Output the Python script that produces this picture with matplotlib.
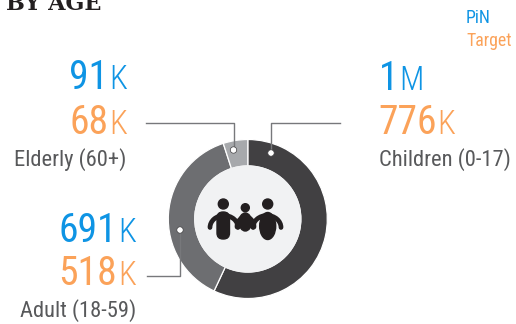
import matplotlib
matplotlib.use('Agg')
import matplotlib.pyplot as plt
from matplotlib.patches import Circle, Ellipse, Arc, FancyBboxPatch

# Personas por grupo de edad (miles)
grupos = ['Children (0-17)', 'Adult (18-59)', 'Elderly (60+)']
pin_num = ['1', '691', '91']
pin_unit = ['M', 'K', 'K']
target_num = ['776', '518', '68']
target_unit = ['K', 'K', 'K']
target = [776, 518, 68]
colores = ['#414042', '#6D6E71', '#A7A9AC']

AZUL = '#0E94E4'
NARANJA = '#FBA259'
GRIS = '#58595B'

plt.rcParams['font.family'] = ['Roboto Condensed', 'DejaVu Sans']

fig = plt.figure(figsize=(5.16, 3.24), dpi=100)
ax = fig.add_axes([0, 0, 1, 1])


def Y(py):
    return 324 - py


# Dona
cx, cy, r = 247.8, 219, 79.5
ax.pie(target, colors=colores, startangle=90, counterclock=False, center=(cx, Y(cy)),
       radius=r, frame=False, wedgeprops=dict(width=r - 53, edgecolor='white', linewidth=0.9))
ax.set_xlim(0, 516)
ax.set_ylim(0, 324)
ax.set_aspect('equal')
ax.axis('off')
ax.add_patch(Circle((cx, Y(cy)), 53, color='#F1F2F3', zorder=3))

# Lineas guia
guia = '#77787B'
ax.plot([146, 233.5, 233.5], [Y(122.7), Y(122.7), Y(150)], color=guia, lw=1, zorder=4)
ax.plot([340, 271, 271], [Y(122.7), Y(122.7), Y(153)], color=guia, lw=1, zorder=4)
ax.plot([147, 180, 180], [Y(275.7), Y(275.7), Y(230)], color=guia, lw=1, zorder=4)
for x, y in [(233.5, 150), (271, 153), (180, 230)]:
    ax.add_patch(Circle((x, Y(y)), 3.2, fc='white', ec='#414042', lw=0.5, zorder=5))

# Icono de la familia
neg = '#231F20'
for x, y, rad in [(223.3, 204, 5), (245.3, 207.7, 4), (267.7, 204, 5)]:
    ax.add_patch(Circle((x, Y(y)), rad, color=neg, zorder=6))
ax.add_patch(FancyBboxPatch((217, Y(239)), 12.5, 27, boxstyle='round,pad=0,rounding_size=6',
                            color=neg, zorder=6))
ax.add_patch(Ellipse((245.3, Y(222)), 12.5, 18, color=neg, zorder=6))
ax.add_patch(Ellipse((267.7, Y(226)), 16, 27, color=neg, zorder=6))
for x, y, w, h in [(224, 227.5, 28, 24), (267, 227.5, 28, 24), (245.5, 227, 17, 20)]:
    ax.add_patch(Arc((x, Y(y)), w, h, theta1=0, theta2=180, color=neg, lw=3.4,
                     capstyle='round', zorder=6))

# Titulo y leyenda
ax.text(6, Y(10), 'BY AGE', family=['Roboto Slab', 'DejaVu Serif'], weight='bold', fontsize=16,
        color='#231F20', ha='left', va='baseline')
ax.text(466, Y(23), 'PiN', fontsize=12.8, color=AZUL, ha='left', va='baseline')
ax.text(466, Y(46), 'Target', fontsize=12.8, color=NARANJA, ha='left', va='baseline')


def numero(x, y, num, unit, color, ancla):
    # numero grande seguido de la unidad en letra fina
    t = ax.text(x, Y(y), num, fontsize=28.5, color=color, ha='left', va='baseline')
    rend = fig.canvas.get_renderer()
    w = t.get_window_extent(rend).width
    u = ax.text(x + w + 1, Y(y), unit, fontsize=23.5, weight='light', color=color,
                ha='left', va='baseline')
    if ancla == 'right':
        d = -(w + 1 + u.get_window_extent(rend).width)
        t.set_x(x + d)
        u.set_x(x + w + 1 + d)


numero(127, 89, pin_num[2], pin_unit[2], AZUL, 'right')
numero(127, 134, target_num[2], target_unit[2], NARANJA, 'right')
ax.text(126, Y(166), grupos[2], fontsize=16.2, color=GRIS, ha='right', va='baseline')

numero(379, 90, pin_num[0], pin_unit[0], AZUL, 'left')
numero(378, 134, target_num[0], target_unit[0], NARANJA, 'left')
ax.text(379, Y(166), grupos[0], fontsize=16.2, color=GRIS, ha='left', va='baseline')

numero(136, 242, pin_num[1], pin_unit[1], AZUL, 'right')
numero(136, 285, target_num[1], target_unit[1], NARANJA, 'right')
ax.text(136, Y(317), grupos[1], fontsize=16.2, color=GRIS, ha='right', va='baseline')

fig.savefig('out.png', dpi=100)
